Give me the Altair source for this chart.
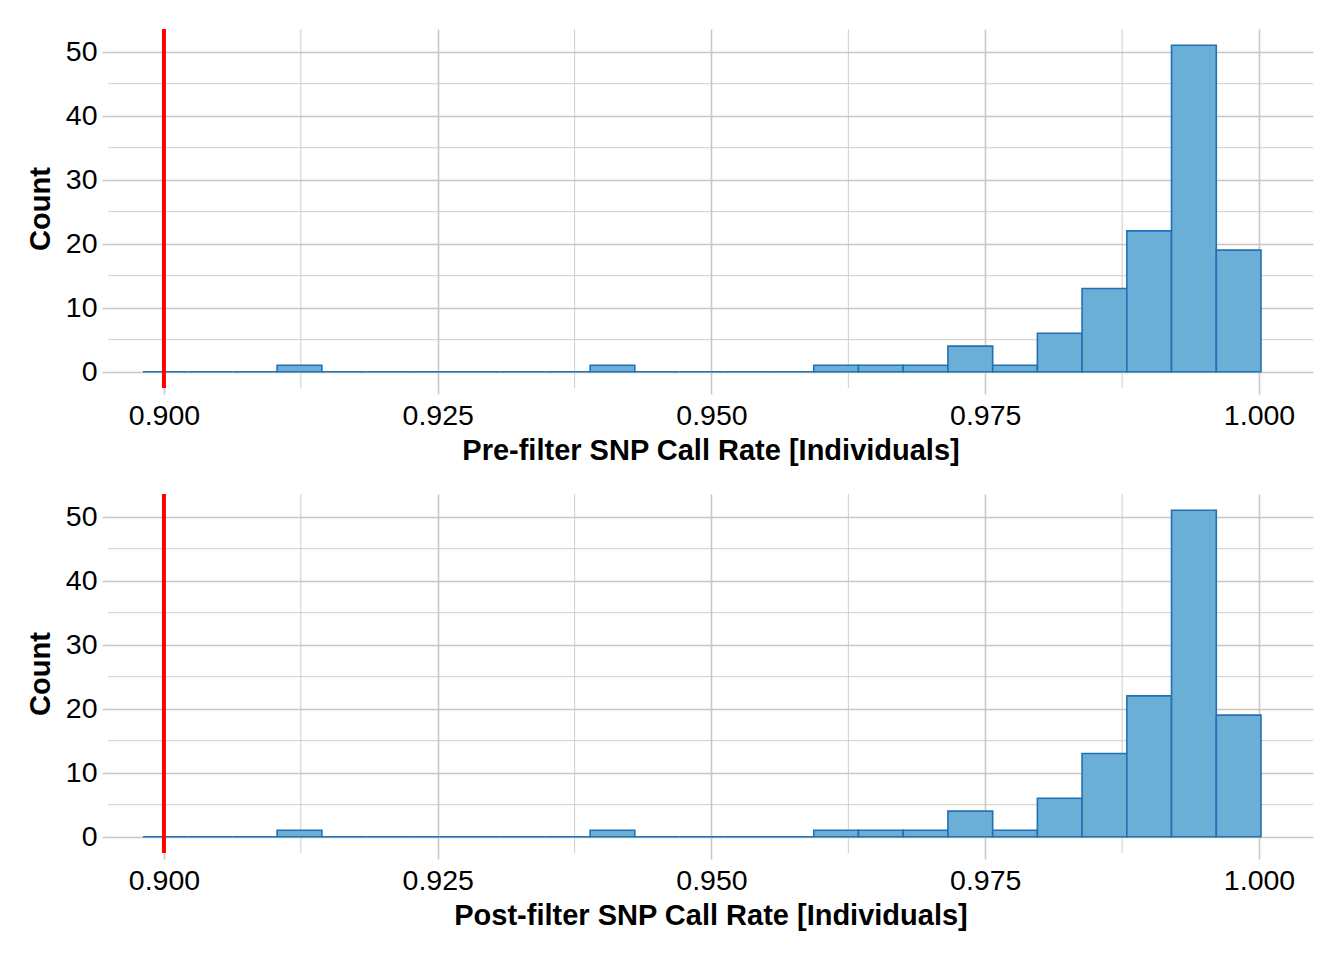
import altair as alt
import pandas as pd

# Histogram bin edges (left/right) and counts
bin_start = [0.89808, 0.90216, 0.90625, 0.91033, 0.91442, 0.91850, 0.92258,
             0.92667, 0.93075, 0.93484, 0.93892, 0.94300, 0.94709, 0.95117,
             0.95526, 0.95934, 0.96342, 0.96751, 0.97159, 0.97568, 0.97976,
             0.98384, 0.98793, 0.99201, 0.99610]
bin_end = [0.90216, 0.90625, 0.91033, 0.91442, 0.91850, 0.92258, 0.92667,
           0.93075, 0.93484, 0.93892, 0.94300, 0.94709, 0.95117, 0.95526,
           0.95934, 0.96342, 0.96751, 0.97159, 0.97568, 0.97976, 0.98384,
           0.98793, 0.99201, 0.99610, 1.00018]
pre_counts = [0, 0, 0, 1, 0, 0, 0, 0, 0, 0, 1, 0, 0, 0, 0, 1, 1, 1, 4, 1,
              6, 13, 22, 51, 19]
post_counts = [0, 0, 0, 1, 0, 0, 0, 0, 0, 0, 1, 0, 0, 0, 0, 1, 1, 1, 4, 1,
               6, 13, 22, 51, 19]

threshold = 0.90
x_major = [0.900, 0.925, 0.950, 0.975, 1.000]
x_minor = [0.9125, 0.9375, 0.9625, 0.9875]
y_major = [0, 10, 20, 30, 40, 50]
y_minor = [5, 15, 25, 35, 45]
x_domain = [0.89489, 1.00493]
y_domain = [-2.55, 53.55]

titles = ["Pre-filter SNP Call Rate [Individuals]",
          "Post-filter SNP Call Rate [Individuals]"]

GRID = "#C8C8C8"
FONT = "Liberation Sans"


def panel(counts, xtitle):
    df = pd.DataFrame({"start": bin_start, "end": bin_end, "count": counts,
                       "zero": [0] * len(counts)})
    xs = alt.Scale(domain=x_domain, nice=False, zero=False)
    ys = alt.Scale(domain=y_domain, nice=False, zero=False)

    minor_x = alt.Chart(pd.DataFrame({"v": x_minor})).mark_rule(
        color=GRID, strokeWidth=0.9
    ).encode(x=alt.X("v:Q", scale=xs))
    minor_y = alt.Chart(pd.DataFrame({"v": y_minor})).mark_rule(
        color=GRID, strokeWidth=0.9
    ).encode(y=alt.Y("v:Q", scale=ys))

    bars = alt.Chart(df).mark_rect(
        fill="#6BAED6", stroke="#2171B5", strokeWidth=1.6
    ).encode(
        x=alt.X("start:Q", scale=xs,
                axis=alt.Axis(values=x_major, format=".3f", title=xtitle)),
        x2="end:Q",
        y=alt.Y("count:Q", scale=ys,
                axis=alt.Axis(values=y_major, format="d", title="Count")),
        y2="zero:Q",
    )

    vline = alt.Chart(pd.DataFrame({"t": [threshold]})).mark_rule(
        color="#FF0000", strokeWidth=4
    ).encode(x=alt.X("t:Q", scale=xs))

    return alt.layer(minor_x, minor_y, bars, vline).properties(
        width=1205, height=359
    )


chart = alt.vconcat(
    panel(pre_counts, titles[0]),
    panel(post_counts, titles[1]),
    spacing=26,
).properties(
    padding={"left": 18, "top": 19, "right": 5, "bottom": 5}
).configure_view(
    stroke=None
).configure_axis(
    grid=True, gridColor=GRID, gridWidth=1.6,
    domain=False, ticks=True, tickColor=GRID, tickSize=6, tickWidth=1.6,
    labelFont=FONT, labelFontSize=28.5, labelColor="#000000", labelPadding=5,
    titleFont=FONT, titleFontSize=29, titleFontWeight="bold",
    titleColor="#000000",
).configure_axisX(
    titlePadding=7, labelPadding=7
).configure_axisY(
    titlePadding=10, labelPadding=5
)

chart.save("out.html", embed_options={"renderer": "svg", "actions": False})
